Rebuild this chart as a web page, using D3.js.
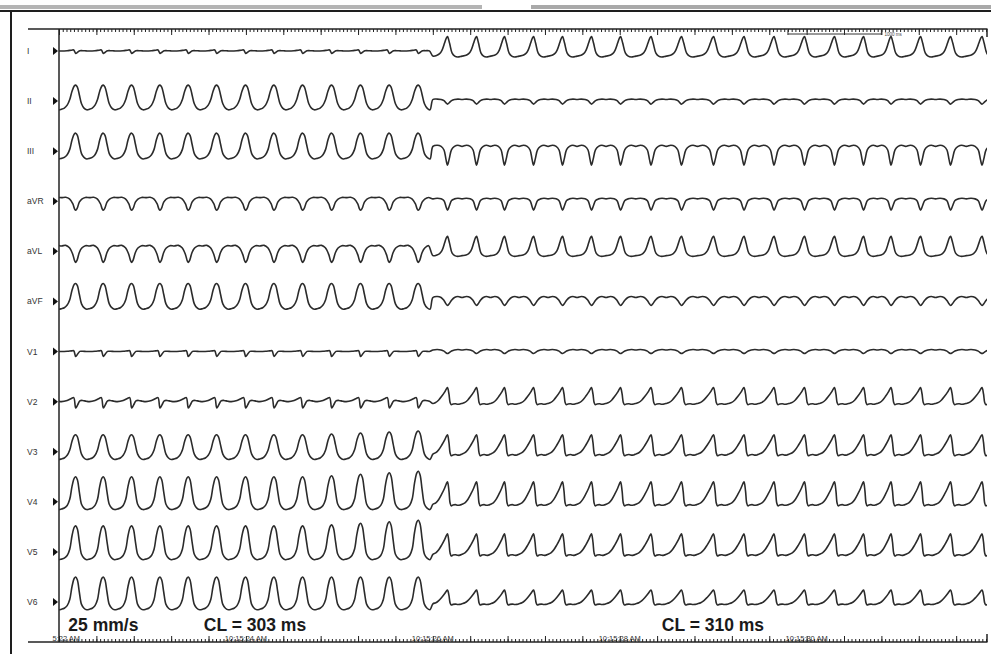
<!DOCTYPE html>
<html>
<head>
<meta charset="utf-8">
<script src="https://cdn.jsdelivr.net/npm/d3@7"></script>
<style>
  body { margin: 0; background: #fff; }
  svg { display: block; }
</style>
</head>
<body>
<div id="chart"></div>
<script>

const leads = ["I", "II", "III", "aVR", "aVL", "aVF", "V1", "V2", "V3", "V4", "V5", "V6"];

// beat times (ms from 10:15:22 AM), CL ~303 ms before the switch, ~310 ms after
const preBeats = [-126, 179, 474, 778, 1081, 1384, 1688, 1998, 2301, 2608, 2918, 3228, 3535, 3845];
const postBeats = [4157, 4468, 4767, 5078, 5388, 5698, 6009, 6335, 6661, 7004, 7330, 7651,
                   7977, 8298, 8609, 8903, 9219, 9540, 9877];

// growth of the last pre beats in V3-V5
const preGain = [1, 1, 1, 1, 1, 1, 1, 1, 1, 1, 1.04, 1.1, 1.16, 1.22];
const gainLeads = ["V3", "V4", "V5"];

// beat shapes: [phase of cycle (peak/nadir at 0), level]; level > 0 scaled by peak, < 0 by trough
const shapes = {
  wave:    [[-0.5, -0.9], [-0.4, -0.78], [-0.3, -0.45], [-0.21, 0.1], [-0.13, 0.62], [-0.05, 0.95], [0, 1],
            [0.06, 0.88], [0.13, 0.4], [0.21, -0.3], [0.3, -0.78], [0.4, -0.97], [0.5, -0.9]],
  invwave: [[-0.5, 0.9], [-0.35, 1], [-0.22, 0.6], [-0.1, -0.3], [-0.04, -0.85], [0, -1], [0.05, -0.8],
            [0.13, -0.1], [0.22, 0.55], [0.35, 0.95], [0.5, 0.9]],
  notch:   [[-0.5, 0], [-0.3, 0.3], [-0.15, 0.8], [-0.07, 1], [0, -1], [0.07, -0.5], [0.15, 0.2],
            [0.25, 0.3], [0.38, 0.1], [0.5, 0]],
  spike:   [[-0.5, -0.85], [-0.36, -0.72], [-0.27, -0.45], [-0.19, 0.05], [-0.1, 0.55], [-0.04, 0.9], [0, 1],
            [0.07, 0.55], [0.16, -0.35], [0.25, -0.85], [0.35, -1], [0.5, -0.85]],
  saw:     [[-0.5, -0.6], [-0.4, -0.25], [-0.3, 0.12], [-0.2, 0.38], [-0.1, 0.68], [-0.04, 0.9], [0, 1],
            [0.05, 0.55], [0.09, -0.3], [0.13, -1], [0.19, -0.8], [0.27, -0.7], [0.35, -0.85], [0.43, -0.8],
            [0.5, -0.6]],
  hump:    [[-0.5, 0.8], [-0.35, 1], [-0.22, 0.8], [-0.12, 0.2], [-0.05, -0.6], [0, -1], [0.06, -0.55],
            [0.14, 0.25], [0.24, 0.8], [0.36, 1], [0.5, 0.8]]
};

// [shape, peak mV, trough mV] for each lead, before and after the change
const preMorph = {
  I: ["notch", 0.05, 0.12], II: ["wave", 0.8, 0.45], III: ["wave", 0.9, 0.4],
  aVR: ["invwave", 0.2, 0.45], aVL: ["invwave", 0.3, 0.55], aVF: ["wave", 0.9, 0.4],
  V1: ["notch", 0.04, 0.25], V2: ["notch", 0.2, 0.32], V3: ["wave", 0.85, 0.4],
  V4: ["wave", 1.25, 0.4], V5: ["wave", 1.3, 0.4], V6: ["wave", 1.25, 0.4]
};
const postMorph = {
  I: ["spike", 0.72, 0.3], II: ["hump", 0.1, 0.15], III: ["hump", 0.3, 0.7],
  aVR: ["hump", 0.15, 0.45], aVL: ["spike", 0.75, 0.25], aVF: ["hump", 0.25, 0.2],
  V1: ["hump", 0.1, 0.1], V2: ["saw", 0.7, 0.15], V3: ["saw", 0.85, 0.2],
  V4: ["saw", 1.0, 0.2], V5: ["saw", 0.9, 0.2], V6: ["saw", 0.6, 0.15]
};

const timeLabelTimes = [0, 2, 4, 6, 8];
const timeLabels = ["10:15:22 AM", "10:15:24 AM", "10:15:26 AM", "10:15:28 AM", "10:15:30 AM"];
const notes = [["25 mm/s", 0.1], ["CL = 303 ms", 1.55], ["CL = 310 ms", 6.45]];

// ---- layout ----
const W = 991, H = 654;
const svg = d3.select("#chart").append("svg")
  .attr("width", W).attr("height", H)
  .style("font-family", "'Liberation Sans', Arial, sans-serif");

const x = d3.scaleLinear().domain([0, 9.93]).range([59, 987]);
const row = d3.scalePoint().domain(leads).range([51, 602]);
const mv = d3.scaleLinear().domain([0, 1]).range([0, -20]);

// window frame
svg.append("rect").attr("x", 0).attr("y", 5).attr("width", 482).attr("height", 4).attr("fill", "#b4b4b4");
svg.append("rect").attr("x", 531).attr("y", 5).attr("width", W - 531).attr("height", 4).attr("fill", "#a9a9a9");
svg.append("rect").attr("x", 0).attr("y", 10).attr("width", W).attr("height", 2).attr("fill", "#1e1e1e");
svg.append("rect").attr("x", 10).attr("y", 10).attr("width", 2).attr("height", H - 10).attr("fill", "#1e1e1e");

const defs = svg.append("defs");
defs.append("clipPath").attr("id", "plot")
  .append("rect").attr("x", x.range()[0]).attr("y", 30).attr("width", x.range()[1] - x.range()[0]).attr("height", 610);
defs.append("clipPath").attr("id", "labels")
  .append("rect").attr("x", 52).attr("y", 620).attr("width", 940).attr("height", 30);

// rulers
const minorTicks = d3.range(0, 249).map(i => i * 0.04);
const majorTicks = d3.range(0, 25).map(i => i * 0.4);
const topY = 29, botY = 642;

function ruler(y, axisFn) {
  const g = svg.append("g").attr("transform", `translate(0,${y})`);
  g.append("g").call(axisFn(x).tickValues(minorTicks).tickSize(3).tickFormat(""));
  g.append("g").call(axisFn(x).tickValues(majorTicks).tickSize(6).tickFormat(""));
  g.selectAll(".domain").remove();
  g.selectAll(".tick line").attr("stroke", "#222").attr("stroke-width", 1);
  g.append("line").attr("x1", 28).attr("x2", x.range()[1] + 0.5).attr("y1", 0).attr("y2", 0)
    .attr("stroke", "#222").attr("stroke-width", 1.5);
  const dir = axisFn === d3.axisBottom ? 1 : -1;
  g.append("line").attr("x1", x.range()[1]).attr("x2", x.range()[1]).attr("y1", 0).attr("y2", dir * 8)
    .attr("stroke", "#222").attr("stroke-width", 1.5);
  return g;
}
ruler(topY, d3.axisBottom);
ruler(botY, d3.axisTop);

// time labels
svg.append("g").attr("clip-path", "url(#labels)")
  .selectAll("text").data(timeLabelTimes).join("text")
  .attr("x", d => x(d)).attr("y", botY - 1)
  .attr("text-anchor", "middle").attr("font-size", 7.5).attr("fill", "#333")
  .text((d, i) => timeLabels[i]);

// left axis
svg.append("line").attr("x1", x(0)).attr("x2", x(0)).attr("y1", topY).attr("y2", botY)
  .attr("stroke", "#222").attr("stroke-width", 1.5);

// 1000 ms scale bar
const sb = svg.append("g").attr("stroke", "#333").attr("stroke-width", 1);
sb.append("line").attr("x1", x(7.8)).attr("x2", x(8.8)).attr("y1", 34).attr("y2", 34);
sb.append("line").attr("x1", x(7.8)).attr("x2", x(7.8)).attr("y1", 30).attr("y2", 35);
sb.append("line").attr("x1", x(8.8)).attr("x2", x(8.8)).attr("y1", 30).attr("y2", 35);
svg.append("text").attr("x", x(8.8) + 3).attr("y", 36).attr("font-size", 4.5).attr("fill", "#444").text("1000 ms");

// lead labels and markers
svg.append("g").selectAll("text").data(leads).join("text")
  .attr("x", 27).attr("y", d => row(d)).attr("dy", "0.35em")
  .attr("font-size", 8.5).attr("fill", "#333").text(d => d);
svg.append("g").selectAll("path").data(leads).join("path")
  .attr("d", d => `M${x(0) - 6},${row(d) - 4}L${x(0) - 1},${row(d)}L${x(0) - 6},${row(d) + 4}Z`)
  .attr("fill", "#111");

// build traces from the beat list and each lead's beat shape
function tracePoints(lead) {
  const beats = preBeats.map((t, i) => ({ t, m: preMorph[lead], g: gainLeads.includes(lead) ? preGain[i] : 1 }))
    .concat(postBeats.map(t => ({ t, m: postMorph[lead], g: 1 })));
  const pts = [];
  beats.forEach((b, i) => {
    const prev = i > 0 ? beats[i - 1].t : b.t - 305;
    const next = i < beats.length - 1 ? beats[i + 1].t : b.t + 315;
    const [shapeName, peak, trough] = b.m;
    shapes[shapeName].forEach(([ph, lv]) => {
      if (ph >= 0.5 && i < beats.length - 1) return;
      const span = ph < 0 ? b.t - prev : next - b.t;
      const amp = lv >= 0 ? lv * peak * b.g : lv * trough;
      pts.push([(b.t + ph * span) / 1000, amp]);
    });
  });
  return pts;
}

const line = d3.line().curve(d3.curveCatmullRom.alpha(0.5));
svg.append("g").attr("clip-path", "url(#plot)")
  .selectAll("path").data(leads).join("path")
  .attr("d", lead => line(tracePoints(lead).map(([t, a]) => [x(t), row(lead) + mv(a)])))
  .attr("fill", "none").attr("stroke", "#2b2b2b").attr("stroke-width", 1.6)
  .attr("stroke-linejoin", "round");

// annotations
svg.append("g").selectAll("text").data(notes).join("text")
  .attr("x", d => x(d[1])).attr("y", 631)
  .attr("font-size", 17.5).attr("font-weight", "bold").attr("fill", "#1a1a1a")
  .text(d => d[0]);
</script>
</body>
</html>
